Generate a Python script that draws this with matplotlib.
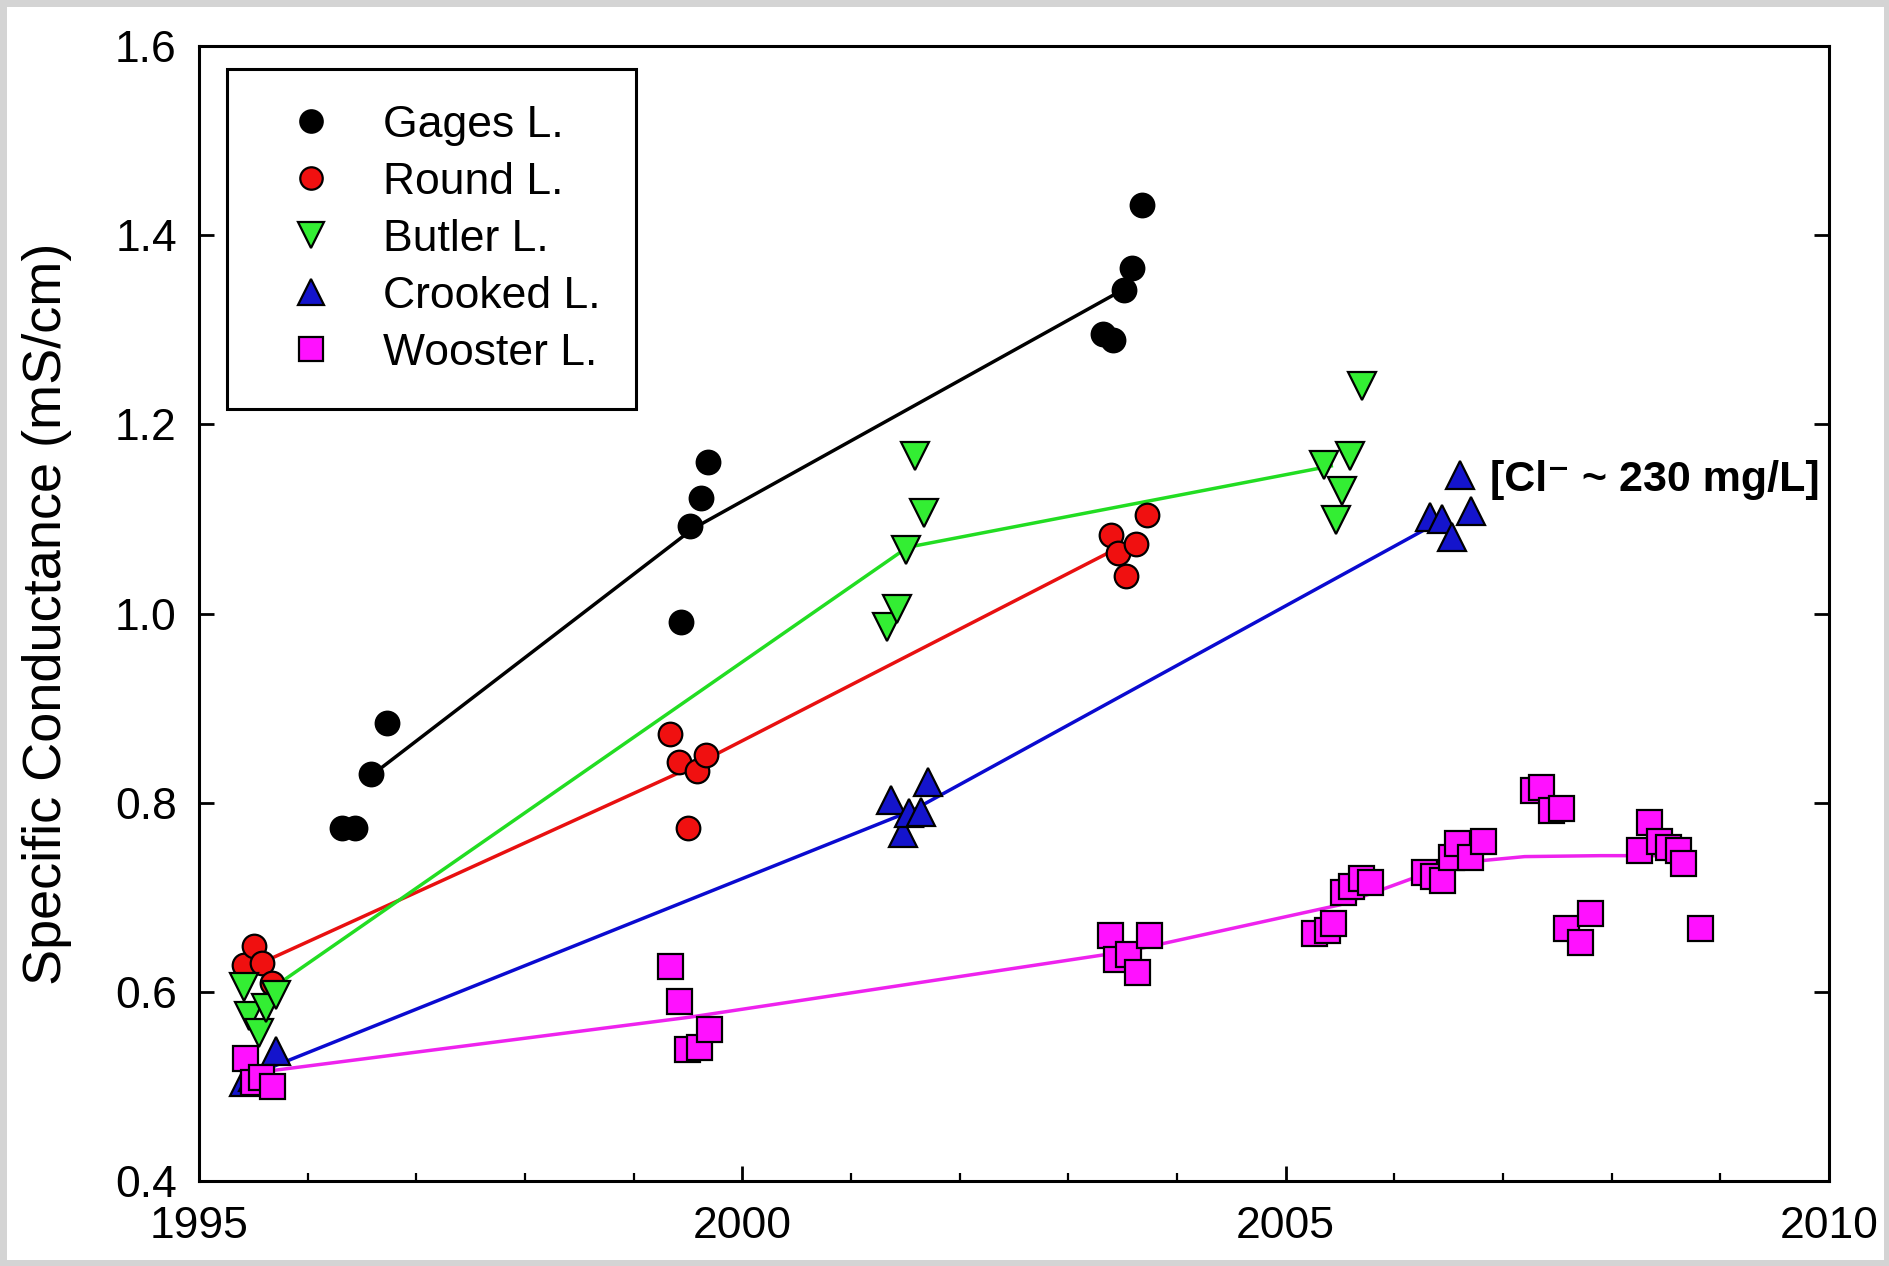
import matplotlib
matplotlib.use("Agg")
import matplotlib.pyplot as plt
from matplotlib.ticker import MultipleLocator

plt.rcParams['font.family'] = ['Liberation Sans', 'DejaVu Sans']

gages_x = [1996.32, 1996.44, 1996.58, 1996.73, 1999.44, 1999.52, 1999.62, 1999.68,
           2003.32, 2003.41, 2003.51, 2003.59, 2003.68]
gages_y = [0.773, 0.773, 0.830, 0.884, 0.991, 1.093, 1.122, 1.160,
           1.296, 1.289, 1.342, 1.365, 1.432]

round_x = [1995.41, 1995.51, 1995.58, 1995.67, 1999.33, 1999.42, 1999.50, 1999.58, 1999.67,
           2003.39, 2003.46, 2003.53, 2003.62, 2003.72]
round_y = [0.628, 0.648, 0.630, 0.609, 0.873, 0.843, 0.773, 0.834, 0.850,
           1.083, 1.064, 1.040, 1.074, 1.104]

butler_x = [1995.41, 1995.46, 1995.55, 1995.62, 1995.71, 2001.33, 2001.42, 2001.51, 2001.59, 2001.67,
            2005.35, 2005.46, 2005.52, 2005.59, 2005.70]
butler_y = [0.605, 0.574, 0.556, 0.583, 0.597, 0.986, 1.005, 1.067, 1.166, 1.106,
            1.157, 1.099, 1.129, 1.167, 1.240]

crooked_x = [1995.41, 1995.50, 1995.71, 2001.37, 2001.48, 2001.53, 2001.64, 2001.71,
             2006.33, 2006.44, 2006.53, 2006.60, 2006.71]
crooked_y = [0.505, 0.510, 0.538, 0.803, 0.768, 0.789, 0.790, 0.822,
             1.102, 1.100, 1.081, 1.146, 1.108]

wooster_x = [1995.42, 1995.50, 1995.57, 1995.67,
             1999.33, 1999.42, 1999.49, 1999.60, 1999.69,
             2003.38, 2003.44, 2003.55, 2003.63, 2003.74,
             2005.26, 2005.38, 2005.44, 2005.53, 2005.60, 2005.69, 2005.78,
             2006.27, 2006.36, 2006.44, 2006.52, 2006.58, 2006.70, 2006.82,
             2007.28, 2007.35, 2007.44, 2007.53, 2007.58, 2007.71, 2007.80,
             2008.25, 2008.34, 2008.44, 2008.52, 2008.61, 2008.66, 2008.81]
wooster_y = [0.530, 0.505, 0.510, 0.501,
             0.627, 0.590, 0.540, 0.542, 0.561,
             0.660, 0.635, 0.640, 0.621, 0.660,
             0.662, 0.665, 0.673, 0.706, 0.712, 0.720, 0.716,
             0.727, 0.722, 0.718, 0.743, 0.757, 0.743, 0.759,
             0.813, 0.817, 0.792, 0.794, 0.667, 0.653, 0.683,
             0.750, 0.780, 0.760, 0.753, 0.750, 0.736, 0.667]

# trend lines through the sampling periods
gages_lx = [1996.6, 1999.55, 2003.42]
gages_ly = [0.83, 1.09, 1.337]
round_lx = [1995.6, 1999.5, 2003.4]
round_ly = [0.632, 0.836, 1.066]
butler_lx = [1995.6, 2001.52, 2005.42]
butler_ly = [0.598, 1.07, 1.156]
crooked_lx = [1995.55, 2001.57, 2006.38]
crooked_ly = [0.515, 0.792, 1.095]
wooster_lx = [1995.55, 1999.5, 2003.55, 2005.5, 2006.55, 2007.2, 2007.9, 2008.5]
wooster_ly = [0.515, 0.573, 0.643, 0.692, 0.736, 0.743, 0.744, 0.744]

fig = plt.figure(figsize=(18.9, 12.66), dpi=100)
fig.patch.set_edgecolor('#d4d4d4')
fig.patch.set_linewidth(8)
ax = fig.add_axes([0.1053, 0.0671, 0.8624, 0.8966])

lw = 2.5
ax.plot(gages_lx, gages_ly, color='black', lw=lw, zorder=2)
ax.plot(round_lx, round_ly, color='#e81010', lw=lw, zorder=2)
ax.plot(butler_lx, butler_ly, color='#22dd22', lw=lw, zorder=2)
ax.plot(crooked_lx, crooked_ly, color='#0a0ad0', lw=lw, zorder=2)
ax.plot(wooster_lx, wooster_ly, color='#ee22ee', lw=lw, zorder=2)

mk = dict(ls='none', markeredgecolor='black', markeredgewidth=1.6, zorder=3)
ax.plot(gages_x, gages_y, marker='o', ms=17, markerfacecolor='black', label='Gages L.', **mk)
ax.plot(round_x, round_y, marker='o', ms=17, markerfacecolor='#f01010', label='Round L.', **mk)
ax.plot(butler_x, butler_y, marker='v', ms=20, markerfacecolor='#33ee33', label='Butler L.', **mk)
ax.plot(crooked_x, crooked_y, marker='^', ms=20, markerfacecolor='#1414cc', label='Crooked L.', **mk)
ax.plot(wooster_x, wooster_y, marker='s', ms=18, markerfacecolor='#ff11ff', label='Wooster L.', **mk)

ax.text(2006.88, 1.141, '[Cl\u207b ~ 230 mg/L]', fontsize=31, fontweight='bold',
        va='center', ha='left', zorder=4)

ax.set_xlim(1995, 2010)
ax.set_ylim(0.4, 1.6)
ax.xaxis.set_major_locator(MultipleLocator(5))
ax.xaxis.set_minor_locator(MultipleLocator(1))
ax.yaxis.set_major_locator(MultipleLocator(0.2))
ax.yaxis.set_major_formatter(plt.FuncFormatter(lambda v, p: '%.1f' % v))

ax.tick_params(axis='both', which='major', direction='in', length=11, width=2,
               labelsize=32, right=True)
ax.tick_params(axis='x', which='minor', direction='in', length=6, width=1.6)
ax.tick_params(axis='x', which='major', pad=18)
ax.tick_params(axis='y', which='major', pad=16)
for s in ax.spines.values():
    s.set_linewidth(2.2)

ax.set_ylabel('Specific Conductance (mS/cm)', fontsize=39)
ax.yaxis.set_label_coords(-0.078, 0.5)

leg = ax.legend(loc='upper left', bbox_to_anchor=(0.0172, 0.9797), borderaxespad=0,
                fontsize=32, frameon=True, fancybox=False, framealpha=1,
                edgecolor='black', borderpad=0.8, labelspacing=0.36,
                handlelength=2.2, handletextpad=0.5, markerscale=0.95)
leg.get_frame().set_linewidth(2.2)

fig.savefig('out.png', dpi=100)
